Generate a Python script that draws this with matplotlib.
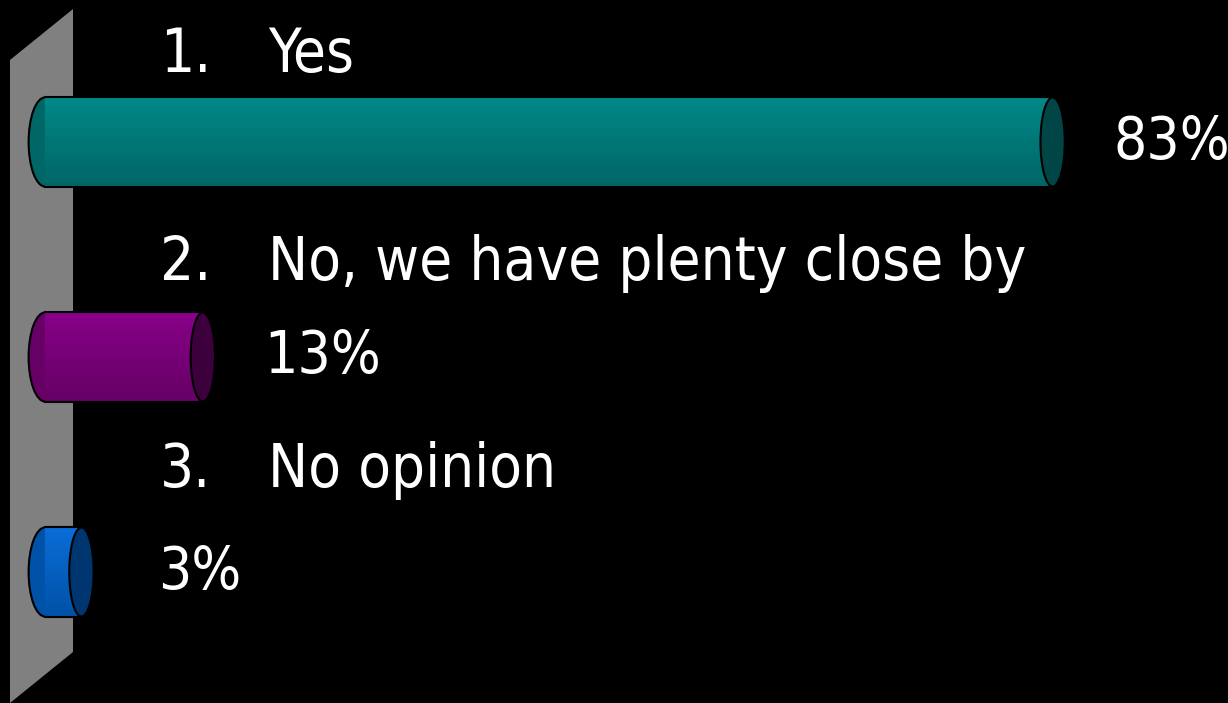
import matplotlib
matplotlib.use('Agg')
import matplotlib.pyplot as plt
from matplotlib.patches import Ellipse, Polygon
from matplotlib import font_manager
from matplotlib.colors import to_rgb

# data
numbers = ['1.', '2.', '3.']
labels = ['Yes', 'No, we have plenty close by', 'No opinion']
values = [83, 13, 3]

# colours per bar (top of body, bottom of body, end face)
body_top = ['#008787', '#870087', '#0a6cd6']
body_bot = ['#006666', '#660066', '#0052a8']
face_cols = ['#004646', '#3c003c', '#003670']

W, H = 1228, 703


def pick_font():
    # condensed look: narrow Liberation if present, else DejaVu condensed
    try:
        font_manager.findfont(font_manager.FontProperties(family='Liberation Sans Narrow'),
                              fallback_to_default=False)
        return dict(family='Liberation Sans Narrow')
    except ValueError:
        return dict(family='DejaVu Sans', stretch='condensed')


font = pick_font()

fig = plt.figure(figsize=(W / 100, H / 100), dpi=100, facecolor='black')
ax = fig.add_axes([0, 0, 1, 1])
ax.set_facecolor('black')
ax.axis('off')

# scale: 12.14 px per percent, zero at x=45px; bar rows 215 px apart
px = 12.14
x0 = 45
ax.set_xlim(-x0 / px, (W - x0) / px)
ax.set_ylim((H - 142) / 215, -142 / 215)

# grey back wall
wall = [(10, 60), (73, 9), (73, 652), (10, 703)]
ax.add_patch(Polygon([(x / W, 1 - y / H) for x, y in wall], closed=True,
                     transform=fig.transFigure, facecolor='#808080',
                     edgecolor='none', zorder=1))

h = 0.414
n = 14
for i, v in enumerate(values):
    c1 = to_rgb(body_top[i])
    c2 = to_rgb(body_bot[i])
    # left (back) end of the cylinder
    ax.add_patch(Ellipse((0, i), width=2.7, height=h, facecolor=body_bot[i],
                         edgecolor='black', lw=1.5, zorder=2))
    # body as shaded bands
    for k in range(n):
        t = k / (n - 1)
        c = tuple(a + (b - a) * t for a, b in zip(c1, c2))
        ax.barh(i - h / 2 + (k + 0.5) * h / n, v, height=h / n, left=0,
                color=c, edgecolor=c, lw=0.3, zorder=3)
    ax.plot([0, v], [i - h / 2, i - h / 2], color='black', lw=1.5, zorder=4)
    ax.plot([0, v], [i + h / 2, i + h / 2], color='black', lw=1.5, zorder=4)
    # front face
    ax.add_patch(Ellipse((v, i), width=2.0, height=h, facecolor=face_cols[i],
                         edgecolor='black', lw=1.5, zorder=5))
    # value label, kept clear of short bars
    ax.annotate(f'{v}%', xy=(max(v, 4.3), i), xytext=(44, 0),
                textcoords='offset points', ha='left', va='center',
                color='white', fontsize=42, zorder=6, **font)

# question options above each bar
baselines = [72, 280, 487]
for num, lab, yb in zip(numbers, labels, baselines):
    fig.text(160 / W, 1 - yb / H, num, ha='left', va='baseline', color='white',
             fontsize=43, **font)
    fig.text(268 / W, 1 - yb / H, lab, ha='left', va='baseline', color='white',
             fontsize=43, **font)

fig.savefig('out.png', dpi=100, facecolor='black')
